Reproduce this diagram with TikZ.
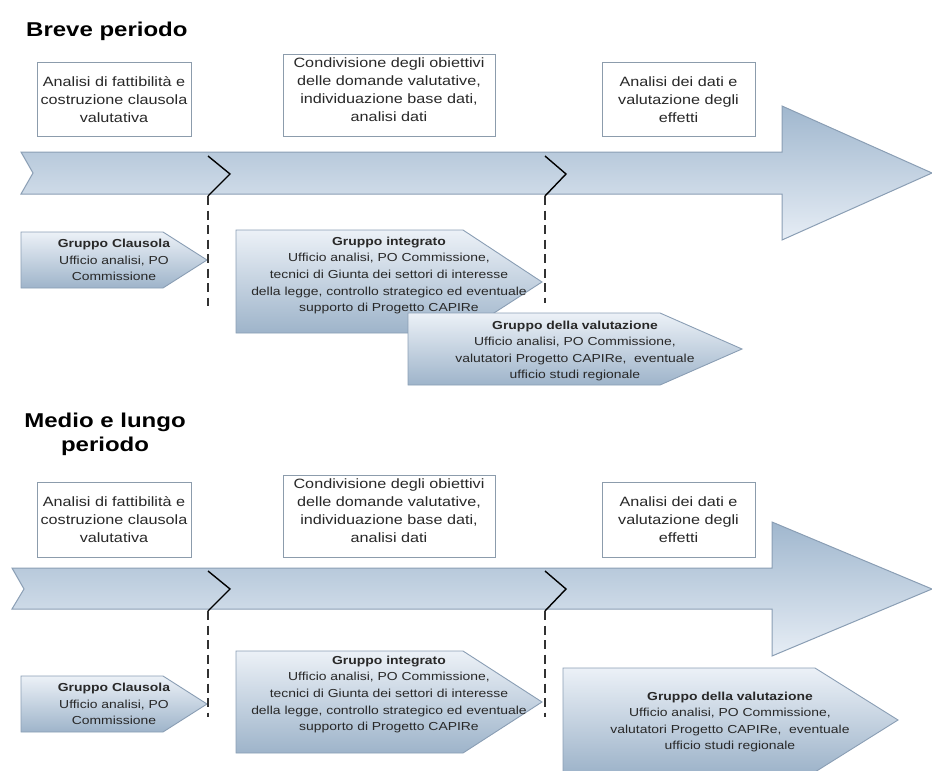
\documentclass[tikz,border=0pt]{standalone}
\usepackage{fontspec}
\setmainfont[FakeStretch=1.2]{Liberation Sans}
\definecolor{edgeC}{RGB}{138,158,180}
\definecolor{arrTop}{RGB}{160,183,206}
\definecolor{arrBot}{RGB}{230,237,245}
\definecolor{grpTop}{RGB}{236,241,247}
\definecolor{grpBot}{RGB}{158,180,202}
\definecolor{boxEdge}{RGB}{140,156,172}
\definecolor{dashC}{RGB}{50,50,50}
\definecolor{txtC}{RGB}{40,40,40}
\begin{document}
\begin{tikzpicture}[x=1pt,y=-1pt,
  bigarrow/.style={draw=edgeC, line width=1pt, top color=arrTop, bottom color=arrBot},
  grp/.style={draw=edgeC, line width=0.9pt, top color=grpTop, bottom color=grpBot},
  box/.style={draw=boxEdge, line width=1pt, fill=white, inner sep=0pt},
  boxtext/.style={inner sep=0pt, align=center, text=txtC, font=\fontsize{13.5}{18}\selectfont},
  grptext/.style={inner sep=0pt, align=center, text=txtC, font=\fontsize{11.6}{16.6}\selectfont},
  titletext/.style={inner sep=0pt, align=center, font=\fontsize{20}{24.5}\selectfont\bfseries},
  chev/.style={draw=black, line width=1.4pt},
  dashln/.style={draw=dashC, line width=2.7pt, dash pattern=on 9pt off 5.5pt}]
\useasboundingbox (0,0) rectangle (932,771);

% ---------------- Breve periodo ----------------
\node[titletext, anchor=base west] (t1) at (26,36) {Breve periodo};

\node[box, minimum width=154, minimum height=74] (a1) at (114,99) {};
\node[boxtext] (a1t) at (114,99.5) {Analisi di fattibilità e\\costruzione clausola\\valutativa};
\node[box, minimum width=212, minimum height=82] (a2) at (389,95) {};
\node[boxtext] (a2t) at (389,90) {Condivisione degli obiettivi\\delle domande valutative,\\individuazione base dati,\\analisi dati};
\node[box, minimum width=153, minimum height=74] (a3) at (678.5,99) {};
\node[boxtext] (a3t) at (678.5,99.5) {Analisi dei dati e\\valutazione degli\\effetti};

\path[bigarrow] (21,152) -- (782,152) -- (782,106) -- (932,173) -- (782,240) -- (782,194) -- (21,194) -- (33,173) -- cycle;

\coordinate (c1t) at (208,156); \coordinate (c1m) at (230,174); \coordinate (c1b) at (208,196);
\coordinate (c2t) at (545,156); \coordinate (c2m) at (566,174); \coordinate (c2b) at (545,196);
\coordinate (d1e) at (208,306); \coordinate (d2e) at (545,303);

\path[grp] (21,232) -- (163,232) -- (207,260) -- (163,288) -- (21,288) -- cycle;
\node[grptext] (g1) at (114,260) {\textbf{Gruppo Clausola}\\Ufficio analisi, PO\\Commissione};
\path[grp] (236,230) -- (463,230) -- (542,282) -- (463,333) -- (236,333) -- cycle;
\node[grptext] (g2) at (389,275.5) {\textbf{Gruppo integrato}\\Ufficio analisi, PO Commissione,\\tecnici di Giunta dei settori di interesse\\della legge, controllo strategico ed eventuale\\supporto di Progetto CAPIRe};
\path[grp] (408,313) -- (660,313) -- (742,349) -- (660,385) -- (408,385) -- cycle;
\node[grptext] (g3) at (575,351) {\textbf{Gruppo della valutazione}\\Ufficio analisi, PO Commissione,\\valutatori Progetto CAPIRe,\ \ eventuale\\ufficio studi regionale};

\draw[chev] (c1t) -- (c1m) -- (c1b);
\draw[chev] (c2t) -- (c2m) -- (c2b);
\draw[dashln] (c1b) -- (d1e);
\draw[dashln] (c2b) -- (d2e);

% ---------------- Medio e lungo periodo ----------------
\node[titletext] (t2) at (105,434.5) {Medio e lungo\\periodo};

\node[box, minimum width=154, minimum height=75] (b1) at (114,519.5) {};
\node[boxtext] (b1t) at (114,520) {Analisi di fattibilità e\\costruzione clausola\\valutativa};
\node[box, minimum width=212, minimum height=82] (b2) at (389,516) {};
\node[boxtext] (b2t) at (389,511) {Condivisione degli obiettivi\\delle domande valutative,\\individuazione base dati,\\analisi dati};
\node[box, minimum width=153, minimum height=75] (b3) at (678.5,519.5) {};
\node[boxtext] (b3t) at (678.5,520) {Analisi dei dati e\\valutazione degli\\effetti};

\path[bigarrow] (12,568) -- (772,568) -- (772,522) -- (932,589) -- (772,656) -- (772,609) -- (12,609) -- (24,589) -- cycle;

\coordinate (e1t) at (208,571); \coordinate (e1m) at (230,589); \coordinate (e1b) at (208,611);
\coordinate (e2t) at (545,571); \coordinate (e2m) at (566,589); \coordinate (e2b) at (545,611);
\coordinate (f1e) at (208,717); \coordinate (f2e) at (545,717);

\path[grp] (21,676) -- (163,676) -- (207,704) -- (163,732) -- (21,732) -- cycle;
\node[grptext] (h1) at (114,704) {\textbf{Gruppo Clausola}\\Ufficio analisi, PO\\Commissione};
\path[grp] (236,651) -- (463,651) -- (542,702) -- (463,753) -- (236,753) -- cycle;
\node[grptext] (h2) at (389,694.5) {\textbf{Gruppo integrato}\\Ufficio analisi, PO Commissione,\\tecnici di Giunta dei settori di interesse\\della legge, controllo strategico ed eventuale\\supporto di Progetto CAPIRe};
\path[grp] (563,668) -- (815,668) -- (898,720) -- (815,772) -- (563,772) -- cycle;
\node[grptext] (h3) at (730,722) {\textbf{Gruppo della valutazione}\\Ufficio analisi, PO Commissione,\\valutatori Progetto CAPIRe,\ \ eventuale\\ufficio studi regionale};

\draw[chev] (e1t) -- (e1m) -- (e1b);
\draw[chev] (e2t) -- (e2m) -- (e2b);
\draw[dashln] (e1b) -- (f1e);
\draw[dashln] (e2b) -- (f2e);
\end{tikzpicture}
\end{document}
